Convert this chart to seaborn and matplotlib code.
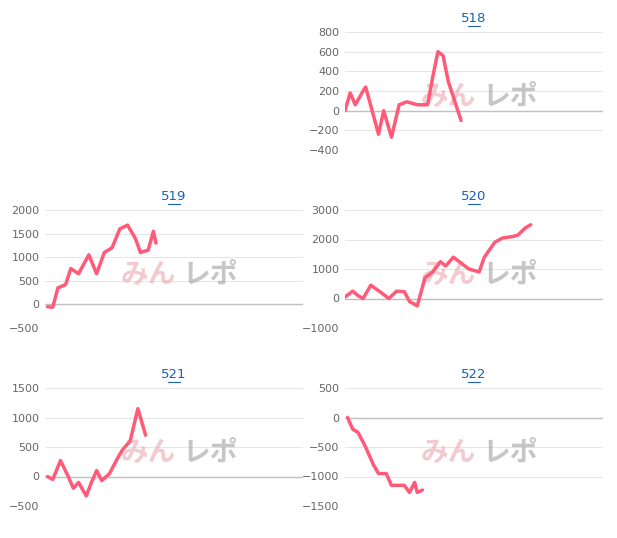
import matplotlib
matplotlib.use("Agg")
import matplotlib.pyplot as plt
import seaborn as sns
import pandas as pd

titles = ["518", "519", "520", "521", "522"]

x518 = [0, 2, 4, 7, 8, 10, 13, 15, 18, 21, 24, 28, 32, 34, 36, 38, 40, 43, 45]
y518 = [0, 180, 60, 200, 240, 50, -240, 0, -270, 60, 90, 60, 60, 340, 600, 560, 300, 60, -100]

x519 = [1, 3, 5, 8, 10, 13, 17, 20, 23, 26, 29, 32, 35, 37, 40, 42, 43]
y519 = [-50, -60, 350, 420, 760, 650, 1050, 650, 1100, 1200, 1600, 1680, 1400, 1100, 1150, 1550, 1300]

x520 = [0, 3, 5, 7, 10, 14, 17, 20, 23, 25, 28, 31, 34, 37, 39, 42, 45, 48, 52, 54, 58, 61, 65, 67, 70, 72]
y520 = [50, 250, 100, 0, 450, 200, 0, 250, 230, -100, -250, 700, 900, 1250, 1100, 1400, 1200, 1000,
        900, 1400, 1900, 2050, 2100, 2150, 2400, 2500]

x521 = [1, 3, 6, 9, 11, 13, 16, 18, 20, 22, 25, 28, 30, 33, 36, 39]
y521 = [0, -50, 270, 0, -200, -100, -330, -100, 100, -70, 50, 300, 450, 600, 1150, 700]

x522 = [1, 3, 5, 8, 11, 13, 16, 18, 21, 23, 25, 27, 28, 30]
y522 = [0, -200, -250, -500, -800, -950, -950, -1150, -1150, -1150, -1270, -1100, -1270, -1230]

ylims = [(-400, 800, 200), (-500, 2000, 500), (-1000, 3000, 1000), (-500, 1500, 500), (-1500, 500, 500)]
series = [(x518, y518), (x519, y519), (x520, y520), (x521, y521), (x522, y522)]

sns.set_style("white")
plt.rcParams['font.family'] = ['DejaVu Sans', 'Noto Sans CJK JP']

fig = plt.figure(figsize=(6.17, 5.38), dpi=100)
W, H = 617, 538
boxes = [(345, 32), (45, 210), (345, 210), (45, 388), (345, 388)]
pw, ph = 258, 118

for (px, py), t, (xs, ys), (lo, hi, st) in zip(boxes, titles, series, ylims):
    ax = fig.add_axes([px / W, 1 - (py + ph) / H, pw / W, ph / H])
    df = pd.DataFrame({"x": xs, "y": ys})
    sns.lineplot(data=df, x="x", y="y", ax=ax, color="#ff5a78", lw=2.5, zorder=3)
    ax.set_xlim(0, 100)
    ax.set_ylim(lo, hi)
    ax.set_yticks(range(lo, hi + 1, st))
    ax.yaxis.grid(True, color="#e6e6e6", lw=0.8)
    ax.axhline(0, color="#c0c0c0", lw=1, zorder=1)
    for s in ax.spines.values():
        s.set_visible(False)
    ax.set_xticks([])
    ax.set_xlabel("")
    ax.set_ylabel("")
    ax.tick_params(axis="y", labelsize=8, colors="#666666", length=0, pad=4)
    ax.set_title(t, fontsize=9.5, color="#1a5fb4", pad=7)
    # underline under the title link
    ax.plot([0.475, 0.525], [1.05, 1.05], transform=ax.transAxes, color="#1a5fb4",
            lw=0.8, clip_on=False)
    # watermark
    ax.text(0.40, 0.45, "みん", transform=ax.transAxes, fontsize=20, fontweight="bold",
            style="italic", color="#e8a0a8", alpha=0.55, ha="center", va="center",
            family=['Noto Sans CJK JP'], zorder=2)
    ax.text(0.64, 0.45, "レポ", transform=ax.transAxes, fontsize=20, fontweight="bold",
            style="italic", color="#a0a0a0", alpha=0.6, ha="center", va="center",
            family=['Noto Sans CJK JP'], zorder=2)

fig.savefig("out.png", dpi=100)
